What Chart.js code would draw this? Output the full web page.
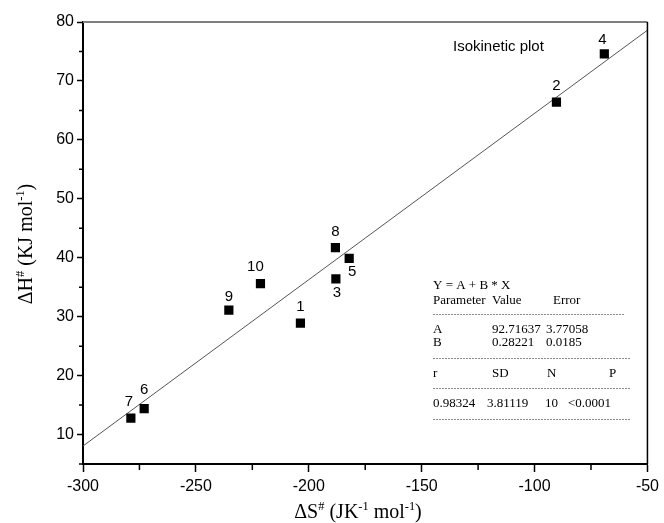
<!DOCTYPE html>
<html>
<head>
<meta charset="utf-8">
<script src="https://cdn.jsdelivr.net/npm/chart.js@4"></script>
<style>
    html, body { margin: 0; padding: 0; background: #fff; }
    #wrap { width: 664px; height: 523px; }
</style>
</head>
<body>
<div id="wrap"><canvas id="isoChart" width="664" height="523"></canvas></div>
<script>
// data
const sampleIds = ['1', '2', '3', '4', '5', '6', '7', '8', '9', '10'];
const deltaS = [-203.7, -90.3, -188.0, -69.1, -182.1, -272.9, -278.8, -188.2, -235.4, -221.4];
const deltaH = [28.9, 66.4, 36.4, 74.6, 39.9, 14.4, 12.8, 41.7, 31.1, 35.6];
const xTicks = [-300, -250, -200, -150, -100, -50];
const yTicks = [10, 20, 30, 40, 50, 60, 70, 80];
const xMinor = [-275, -225, -175, -125, -75];
const yMinor = [5, 15, 25, 35, 45, 55, 65, 75];

// linear fit Y = A + B * X
const fitA = 92.71637;
const fitB = 0.28221;
const xRange = [-300, -50];

// label nudges (px) for the point numbers
const labelOffsets = [[0, -16], [0, -16], [1, 14], [-2, -14], [3, 14], [0, -19], [-2, -16], [0, -16], [0, -13], [-5, -17]];

const sansFont = '"Liberation Sans", Arial, sans-serif';
const serifFont = '"Liberation Serif", "Times New Roman", serif';

// draw text with superscript parts, centred on x
function drawRich(ctx, parts, x, y, size) {
    let total = 0;
    parts.forEach(p => {
        ctx.font = (p.sup ? size * 0.62 : size) + 'px ' + serifFont;
        p.w = ctx.measureText(p.t).width;
        total += p.w;
    });
    let cx = x - total / 2;
    parts.forEach(p => {
        ctx.font = (p.sup ? size * 0.62 : size) + 'px ' + serifFont;
        ctx.fillText(p.t, cx, p.sup ? y - size * 0.42 : y);
        cx += p.w;
    });
}

const extrasPlugin = {
    id: 'extras',
    afterDatasetsDraw(chart) {
        const ctx = chart.ctx;
        const meta = chart.getDatasetMeta(0);
        ctx.save();
        ctx.fillStyle = '#000';
        ctx.font = '15px ' + sansFont;
        ctx.textAlign = 'center';
        ctx.textBaseline = 'middle';
        meta.data.forEach((pt, i) => {
            const off = labelOffsets[i];
            ctx.fillText(sampleIds[i], pt.x + off[0], pt.y + off[1]);
        });
        ctx.restore();
    },
    afterDraw(chart) {
        const ctx = chart.ctx;
        const area = chart.chartArea;
        const xs = chart.scales.x;
        const ys = chart.scales.y;
        ctx.save();

        // frame: gray top, black right
        ctx.strokeStyle = '#7f7f7f';
        ctx.lineWidth = 2;
        ctx.beginPath();
        ctx.moveTo(area.left, area.top);
        ctx.lineTo(area.right, area.top);
        ctx.stroke();
        ctx.strokeStyle = '#000';
        ctx.lineWidth = 1.5;
        ctx.beginPath();
        ctx.moveTo(area.right, area.top);
        ctx.lineTo(area.right, area.bottom);
        ctx.stroke();

        // minor ticks
        ctx.lineWidth = 1.5;
        ctx.beginPath();
        xMinor.forEach(v => {
            const px = xs.getPixelForValue(v);
            ctx.moveTo(px, area.bottom);
            ctx.lineTo(px, area.bottom + 6);
        });
        yMinor.forEach(v => {
            const py = ys.getPixelForValue(v);
            ctx.moveTo(area.left, py);
            ctx.lineTo(area.left - 4, py);
        });
        ctx.stroke();

        // axis titles
        ctx.fillStyle = '#000';
        ctx.textAlign = 'left';
        ctx.textBaseline = 'alphabetic';
        drawRich(ctx, [
            { t: '\u0394S' }, { t: '#', sup: true }, { t: ' (JK' }, { t: '-1', sup: true },
            { t: ' mol' }, { t: '-1', sup: true }, { t: ')' }
        ], 358, 518, 20);
        ctx.save();
        ctx.translate(32, 244);
        ctx.rotate(-Math.PI / 2);
        drawRich(ctx, [
            { t: '\u0394H' }, { t: '#', sup: true }, { t: ' (KJ mol' }, { t: '-1', sup: true }, { t: ')' }
        ], 0, 0, 20);
        ctx.restore();

        // caption
        ctx.font = '15px ' + sansFont;
        ctx.fillText('Isokinetic plot', 453, 51);

        // fit statistics box
        ctx.font = '13px ' + serifFont;
        ctx.fillText('Y = A + B * X', 433, 289);
        ctx.fillText('Parameter', 433, 304);
        ctx.fillText('Value', 492, 304);
        ctx.fillText('Error', 553, 304);
        ctx.fillText('A', 433, 333);
        ctx.fillText(fitA.toFixed(5), 492, 333);
        ctx.fillText('3.77058', 546, 333);
        ctx.fillText('B', 433, 346);
        ctx.fillText(fitB.toFixed(5), 492, 346);
        ctx.fillText('0.0185', 546, 346);
        ctx.fillText('r', 433, 377);
        ctx.fillText('SD', 492, 377);
        ctx.fillText('N', 547, 377);
        ctx.fillText('P', 609, 377);
        ctx.fillText('0.98324', 433, 407);
        ctx.fillText('3.81119', 487, 407);
        ctx.fillText('10', 545, 407);
        ctx.fillText('<0.0001', 568, 407);

        ctx.strokeStyle = '#8a8a8a';
        ctx.lineWidth = 1;
        ctx.setLineDash([2, 1]);
        [[314, 625], [358, 630], [388, 630], [419, 630]].forEach(d => {
            ctx.beginPath();
            ctx.moveTo(433, d[0] + 0.5);
            ctx.lineTo(d[1], d[0] + 0.5);
            ctx.stroke();
        });
        ctx.restore();
    }
};

const points = deltaS.map((s, i) => ({ x: s, y: deltaH[i] }));
const fitLine = xRange.map(x => ({ x: x, y: fitA + fitB * x }));

new Chart(document.getElementById('isoChart').getContext('2d'), {
    type: 'scatter',
    data: {
        datasets: [{
            data: points,
            pointStyle: 'rect',
            pointRadius: 6.5,
            pointBorderWidth: 0,
            backgroundColor: '#000',
            borderColor: '#000'
        }, {
            type: 'line',
            data: fitLine,
            borderColor: '#555',
            borderWidth: 1,
            pointRadius: 0,
            fill: false
        }]
    },
    options: {
        responsive: false,
        animation: false,
        layout: { padding: { top: 22, right: 15, left: 0, bottom: 0 } },
        plugins: { legend: { display: false }, tooltip: { enabled: false } },
        scales: {
            x: {
                type: 'linear',
                min: -300,
                max: -50,
                afterBuildTicks: s => { s.ticks = xTicks.map(v => ({ value: v })); },
                afterFit: s => { s.height = 59; },
                ticks: { color: '#000', font: { family: sansFont, size: 16 }, padding: 5 },
                grid: { drawOnChartArea: false, tickLength: 8, tickColor: '#000', tickWidth: 1.5 },
                border: { color: '#000', width: 2 }
            },
            y: {
                min: 5,
                max: 80,
                afterBuildTicks: s => { s.ticks = yTicks.map(v => ({ value: v })); },
                afterFit: s => { s.width = 83; },
                ticks: { color: '#000', font: { family: sansFont, size: 16 }, padding: 3 },
                grid: { drawOnChartArea: false, tickLength: 6, tickColor: '#000', tickWidth: 1.5 },
                border: { color: '#000', width: 2 }
            }
        }
    },
    plugins: [extrasPlugin]
});
</script>
</body>
</html>
